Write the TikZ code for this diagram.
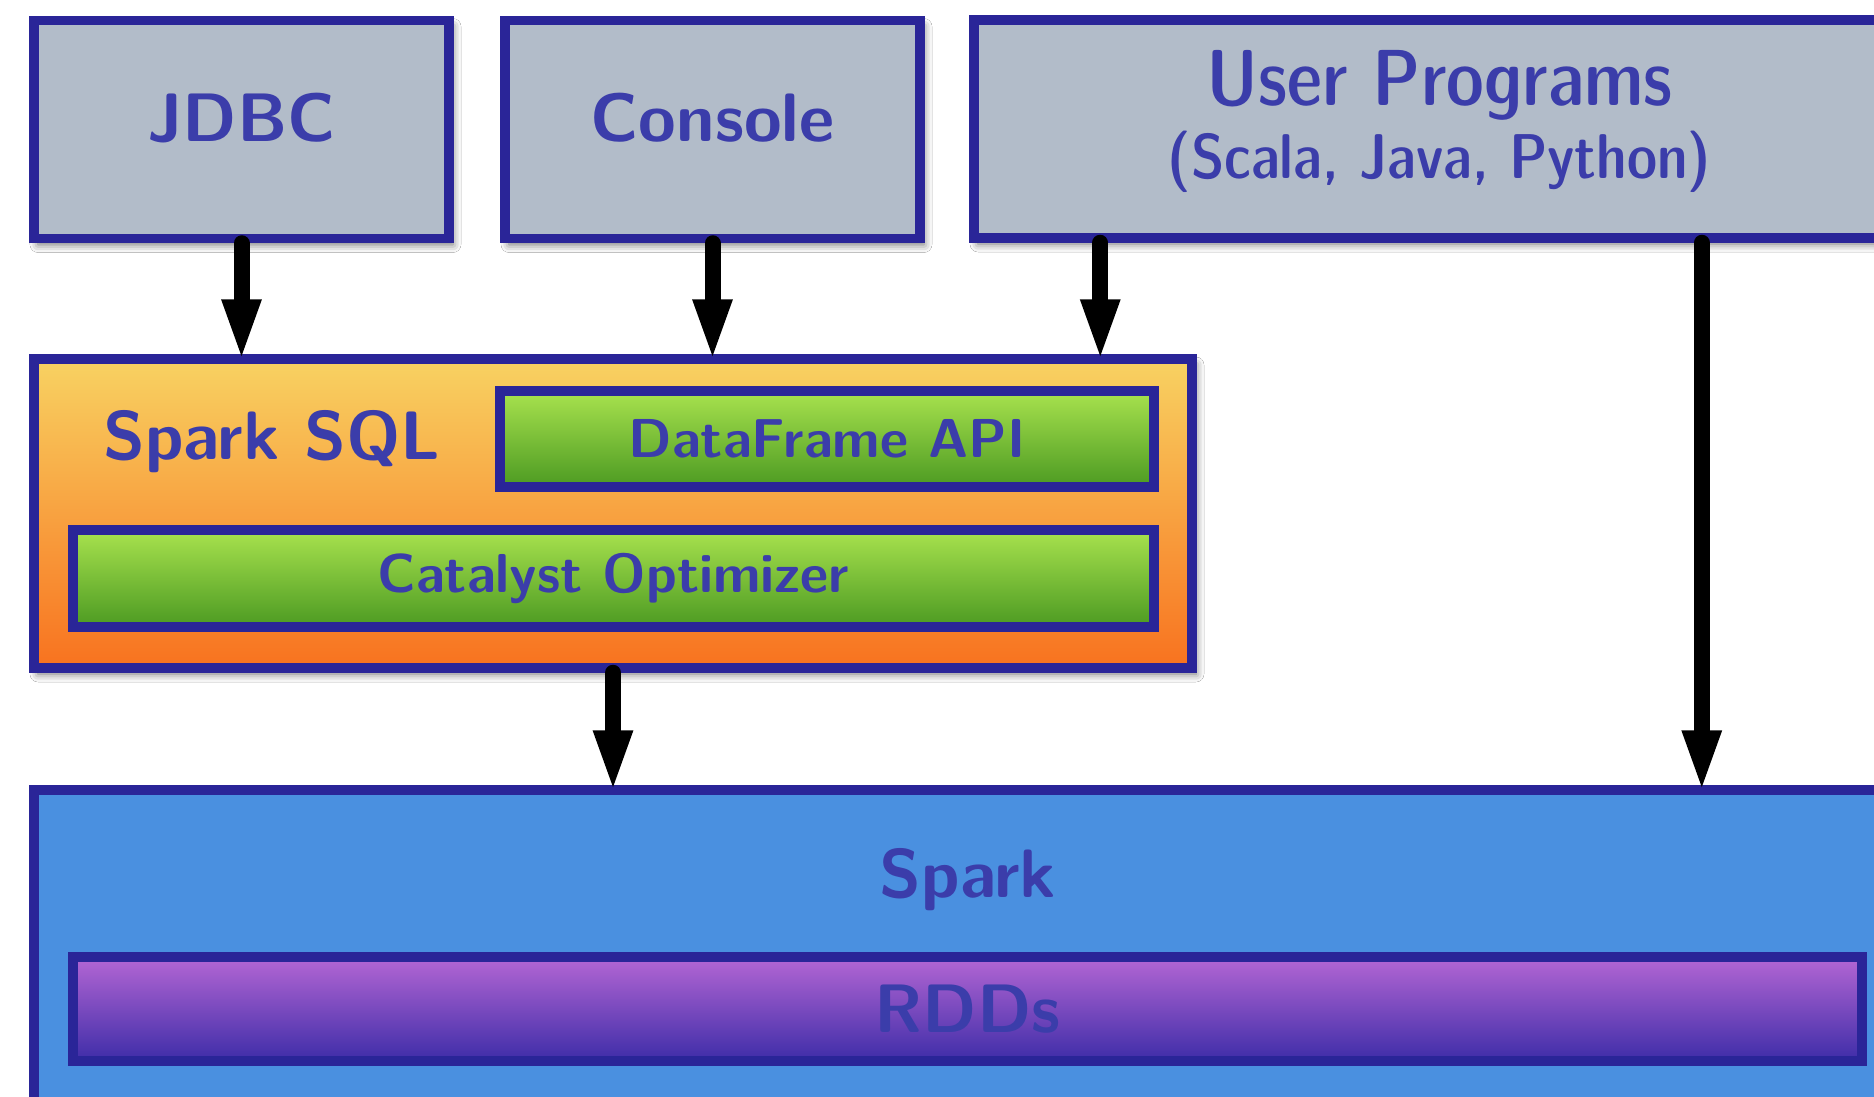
\documentclass[tikz,border=0pt]{standalone}
\usepackage{xcolor}
\usetikzlibrary{arrows.meta,shadows.blur}
\definecolor{box-line}{HTML}{2A2598}
\definecolor{box-text}{HTML}{3B3DAA}
\definecolor{client-grey}{HTML}{B2BCC9}
\definecolor{spark-blue}{HTML}{4A90E0}
\definecolor{sql-top}{HTML}{F8D262}
\definecolor{sql-bottom}{HTML}{F8721F}
\definecolor{green-top}{HTML}{A8E24E}
\definecolor{green-bottom}{HTML}{4C9A22}
\definecolor{rdd-top}{HTML}{B466D4}
\definecolor{rdd-bottom}{HTML}{3E2DA8}

\begin{document}
\begin{tikzpicture}[every node/.style={font=\sffamily\bfseries\fontsize{19.5}{23}\selectfont,
    text=box-text},
    layer/.style={draw=box-line, line width=2.7pt, align=center},
    shade/.style={blur shadow={shadow xshift=0.04cm, shadow yshift=-0.06cm,
      shadow blur radius=0.08cm, shadow opacity=60}},
    flow/.style={-{Triangle[width=0.35cm, length=0.63cm]}, line width=0.16cm,
      line cap=round, shorten >=-0.08cm}]
      \clip (0,0) rectangle (18.74,-10.96);
      \fill[white] (0,0) rectangle (18.74,-10.96);
      \node[layer, shade, fill=client-grey, minimum width=4.15cm, minimum height=2.18cm,
        text depth=0.24cm]
        (jdbc) at (2.415,-1.295) {JDBC};
      \node[layer, shade, fill=client-grey, minimum width=4.15cm, minimum height=2.18cm,
        text depth=0.24cm]
        (console) at (7.125,-1.295) {Console};
      \node[layer, shade, fill=client-grey, minimum width=9.31cm, minimum height=2.18cm,
        font=\sffamily\fontseries{sbc}\selectfont\fontsize{22.6}{25}\selectfont, text depth=0.29cm]
        (user) at (14.395,-1.29)
        {User Programs\\[-4pt]{\fontsize{18}{21}\selectfont (Scala, Java, Python)}};
      \node[layer, shade, top color=sql-top, bottom color=sql-bottom,
        minimum width=11.58cm, minimum height=3.09cm]
        (sql) at (6.13,-5.135) {};
      \node (sqllabel) at (2.72,-4.42) {Spark SQL};
      \node[layer, top color=green-top, bottom color=green-bottom,
        minimum width=6.54cm, minimum height=0.96cm, font=\sffamily\bfseries\fontsize{15.6}{19}\selectfont]
        (dataframe) at (8.27,-4.39) {DataFrame API};
      \node[layer, top color=green-top, bottom color=green-bottom,
        minimum width=10.81cm, minimum height=0.97cm, font=\sffamily\bfseries\fontsize{15.6}{19}\selectfont]
        (catalyst) at (6.135,-5.785) {Catalyst Optimizer};
      \node[layer, shade, fill=spark-blue, minimum width=18.71cm, minimum height=3.2cm]
        (spark) at (9.695,-9.5) {};
      \node (sparklabel) at (9.68,-8.80) {Spark};
      \node[layer, top color=rdd-top, bottom color=rdd-bottom,
        minimum width=17.89cm, minimum height=1.04cm]
        (rdds) at (9.675,-10.09) {RDDs};
      \coordinate (ua) at ([xshift=1.31cm]user.south west);
      \coordinate (ub) at ([xshift=-2.08cm]user.south east);
      \draw[flow] (jdbc.south) -- (jdbc.south |- sql.north);
      \draw[flow] (console.south) -- (console.south |- sql.north);
      \draw[flow] (ua) -- (ua |- sql.north);
      \draw[flow] (ub) -- (ub |- spark.north);
      \draw[flow] (sql.south) -- (sql.south |- spark.north);
    \end{tikzpicture}
\end{document}
